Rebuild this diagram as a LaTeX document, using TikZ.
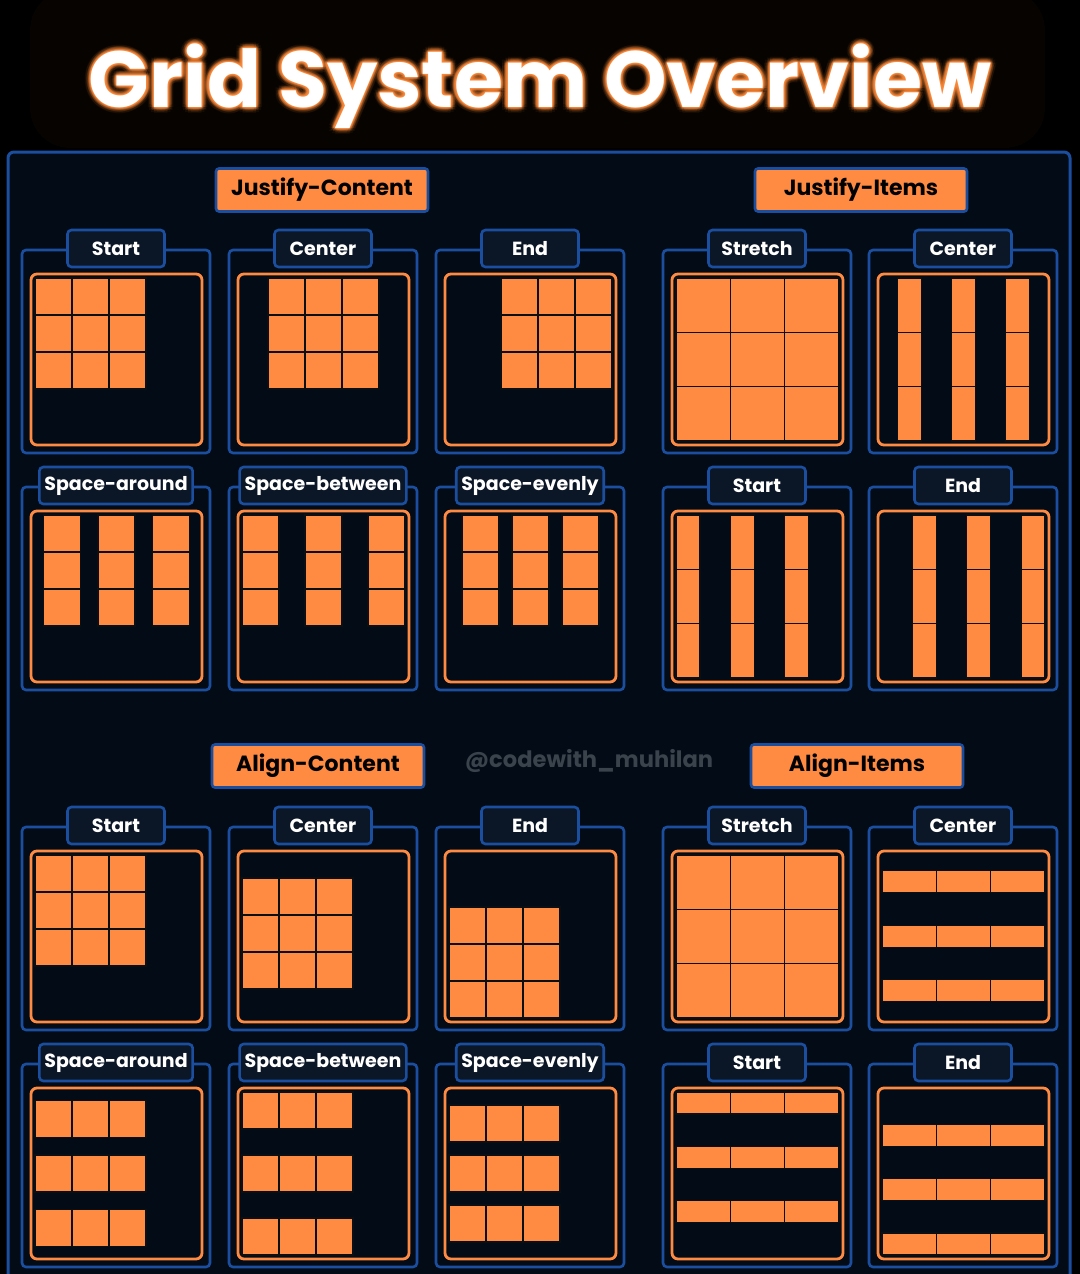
\documentclass[tikz,border=0pt]{standalone}
\usepackage{fontspec}
\setmainfont{Poppins}
\usepackage{tikz}
\usetikzlibrary{calc}

\definecolor{bgpanel}{HTML}{030C16}
\definecolor{frameblue}{HTML}{1B4E9E}
\definecolor{tabfill}{HTML}{0B1626}
\definecolor{gridorange}{HTML}{FF8A42}
\definecolor{celledge}{HTML}{0A0F14}
\definecolor{markgray}{HTML}{3A424C}
\definecolor{glow}{HTML}{FF8C3C}

\tikzset{
  panelbox/.style={draw=frameblue,line width=1.3pt,rounded corners=2pt,fill=bgpanel},
  tabbox/.style={draw=frameblue,line width=1.3pt,rounded corners=2pt,fill=tabfill,text=white,
    font=\bfseries\fontsize{9.5}{10}\selectfont,minimum width=48.5pt,minimum height=18.5pt,inner xsep=2.5pt},
  innerbox/.style={draw=gridorange,line width=1.4pt,rounded corners=3pt},
  cell/.style={fill=gridorange,draw=celledge,line width=0.6pt},
  headbox/.style={draw=frameblue,line width=1.3pt,fill=gridorange,rounded corners=1.5pt,text=black,
    font=\bfseries\fontsize{11}{12}\selectfont,minimum width=106pt,minimum height=21.5pt},
  titletext/.style={font=\bfseries\fontsize{39.8}{40}\selectfont},
}

% #1,#2 top left of the frame, #3 label, #4 name, #5 x offsets, #6 y offsets, #7 width, #8 height
\newcommand{\gridpanel}[8]{%
  \draw[panelbox] (#1,#2) rectangle +(188,203);
  \node[tabbox] (#4) at ({#1+94},{#2-1.5}) {#3};
  \draw[innerbox] ({#1+9},{#2+24}) rectangle +(171,171);
  \begin{scope}[shift={({#1+13},{#2+28})}]
    \foreach \u in {#5} \foreach \v in {#6} \draw[cell] (\u,\v) rectangle +(#7,#8);
  \end{scope}
}

\begin{document}
\begin{tikzpicture}[x=0.5pt,y=-0.5pt]
\useasboundingbox (0,0) rectangle (1080,1274);
\clip (0,0) rectangle (1080,1274);
\fill[black] (0,0) rectangle (1080,1274);
\fill[black!92!orange,opacity=0.3,rounded corners=20pt] (30,-10) rectangle (1045,148);

% title with glow
\foreach \r/\o in {6/0.06,4/0.12,2.5/0.2,1.2/0.3}
  \foreach \a in {0,30,...,330}
    \node[titletext,text=glow,opacity=\o] at ($(540,86)+(\a:\r)$) {Grid System Overview};
\node[titletext,text=white] (title) at (540,86) {Grid System Overview};

% main frame
\draw[draw=frameblue,line width=1.5pt,fill=bgpanel,rounded corners=3pt] (8,152) rectangle (1070,1300);

% headers
\node[headbox] (jcHead) at (322,190) {Justify-Content};
\node[headbox] (jiHead) at (861,190) {Justify-Items};
\node[headbox] (acHead) at (318,766) {Align-Content};
\node[headbox] (aiHead) at (857,766) {Align-Items};
\node[text=markgray,font=\bfseries\fontsize{11.3}{12}\selectfont] (mark) at (589,761) {@codewith\_muhilan};

% justify-content
\gridpanel{22}{250}{Start}{jcStart}{0,37,74}{0,37,74}{37}{37}
\gridpanel{229}{250}{Center}{jcCenter}{26,63,100}{0,37,74}{37}{37}
\gridpanel{436}{250}{End}{jcEnd}{52,89,126}{0,37,74}{37}{37}
\gridpanel{22}{487}{Space-around}{jcAround}{8.7,63,117.3}{0,37,74}{37}{37}
\gridpanel{229}{487}{Space-between}{jcBetween}{0,63,126}{0,37,74}{37}{37}
\gridpanel{436}{487}{Space-evenly}{jcEvenly}{13,63,113}{0,37,74}{37}{37}

% justify-items
\gridpanel{663}{250}{Stretch}{jiStretch}{0,54.33,108.67}{0,54.33,108.67}{54.33}{54.33}
\gridpanel{869}{250}{Center}{jiCenter}{15.2,69.5,123.8}{0,54.33,108.67}{24}{54.33}
\gridpanel{663}{487}{Start}{jiStart}{0,54.33,108.67}{0,54.33,108.67}{24}{54.33}
\gridpanel{869}{487}{End}{jiEnd}{30.3,84.7,139}{0,54.33,108.67}{24}{54.33}

% align-content
\gridpanel{22}{827}{Start}{acStart}{0,37,74}{0,37,74}{37}{37}
\gridpanel{229}{827}{Center}{acCenter}{0,37,74}{23,60,97}{37}{37}
\gridpanel{436}{827}{End}{acEnd}{0,37,74}{52,89,126}{37}{37}
\gridpanel{22}{1064}{Space-around}{acAround}{0,37,74}{8.7,63,117.3}{37}{37}
\gridpanel{229}{1064}{Space-between}{acBetween}{0,37,74}{0,63,126}{37}{37}
\gridpanel{436}{1064}{Space-evenly}{acEvenly}{0,37,74}{13,63,113}{37}{37}

% align-items
\gridpanel{663}{827}{Stretch}{aiStretch}{0,54.33,108.67}{0,54.33,108.67}{54.33}{54.33}
\gridpanel{869}{827}{Center}{aiCenter}{0,54.33,108.67}{15.2,70.5,124.8}{54.33}{22}
\gridpanel{663}{1064}{Start}{aiStart}{0,54.33,108.67}{0,54.33,108.67}{54.33}{22}
\gridpanel{869}{1064}{End}{aiEnd}{0,54.33,108.67}{32.3,86.7,141}{54.33}{22}
\end{tikzpicture}
\end{document}
